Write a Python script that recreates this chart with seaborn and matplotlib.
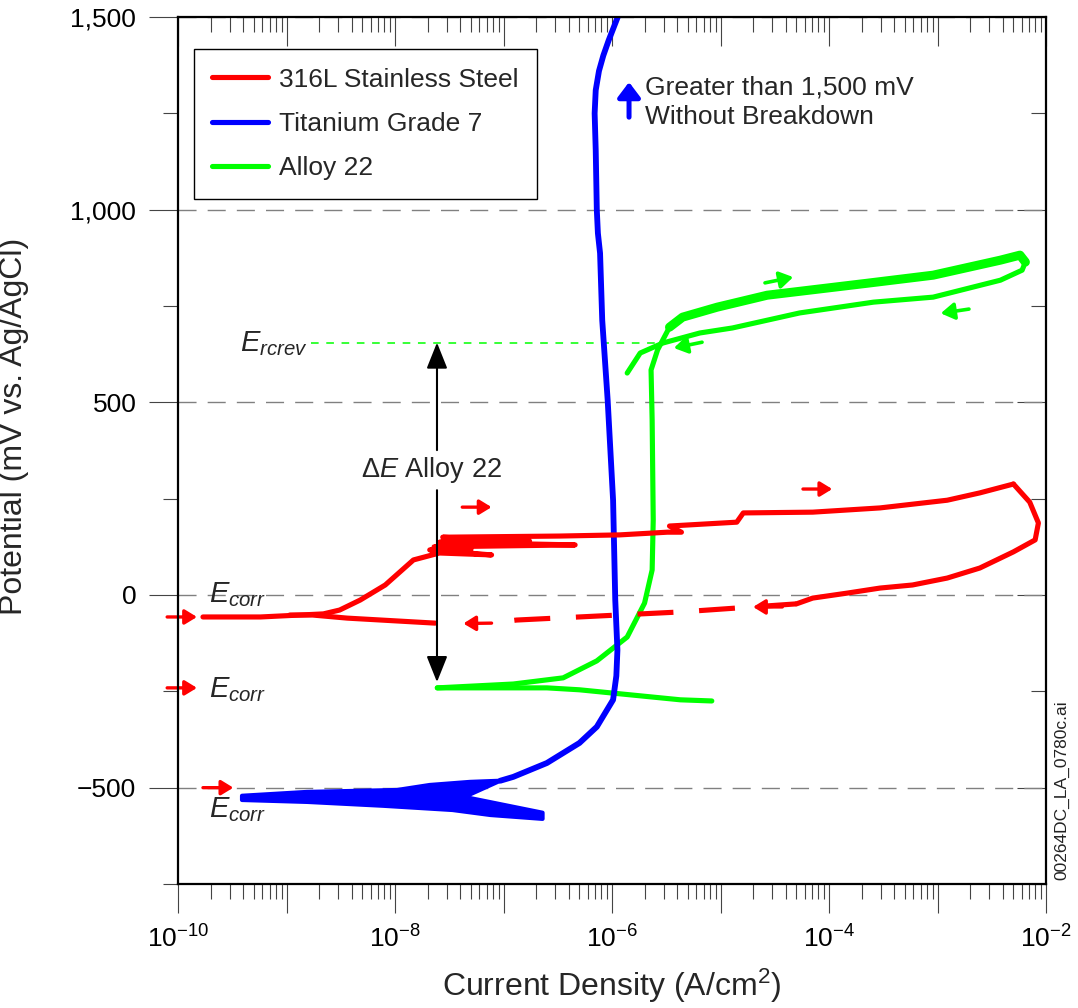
import numpy as np
import pandas as pd
import matplotlib
matplotlib.use("Agg")
import matplotlib.pyplot as plt
import matplotlib.ticker as mticker
from matplotlib.lines import Line2D
import seaborn as sns

# ---------------------------------------------------------------
# Cyclic polarization data: log10 current density (A/cm2) vs.
# potential (mV vs. Ag/AgCl)
# ---------------------------------------------------------------

# 316L stainless steel, forward scan (with metastable pitting spikes)
ss_fwd_logi = [-9.77, -9.24, -8.66, -8.51, -8.32, -8.09, -7.83, -7.59, -7.11, -7.68,
               -7.30, -7.64, -6.34, -7.59, -6.76, -7.54, -7.20, -7.56, -6.48, -5.93,
               -5.49, -5.36, -5.47, -4.85, -4.79, -4.15, -3.53, -2.91, -2.61, -2.30]
ss_fwd_mv = [-57, -57, -49, -39, -13, 26, 91, 109, 104, 117,
             118, 125, 130, 137, 140, 146, 144, 150, 153, 156,
             163, 163, 179, 189, 213, 215, 226, 246, 265, 288]
# 316L reverse scan
ss_rev_logi = [-2.30, -2.15, -2.07, -2.10, -2.30, -2.61, -2.91, -3.23, -3.53, -3.83,
               -4.15, -4.30]
ss_rev_mv = [288, 241, 187, 143, 112, 70, 44, 26, 18, 5, -8, -23]
# 316L reverse scan, bridged portion (dashed)
ss_bridge_logi = [-4.30, -5.37, -6.88, -7.11]
ss_bridge_mv = [-23, -44, -65, -73]
# 316L return to corrosion potential
ss_ret_logi = [-7.63, -8.44, -8.76, -8.97]
ss_ret_mv = [-73, -60, -52, -52]

# Titanium Grade 7, main branch
ti_logi = [-7.03, -6.91, -6.60, -6.30, -6.14, -5.99, -5.96, -5.95, -5.97, -5.99,
           -6.04, -6.09, -6.11, -6.13, -6.14, -6.15, -6.16, -6.15, -6.12, -6.08,
           -6.03, -5.94]
ti_mv = [-482, -472, -436, -384, -342, -272, -210, -143, -13, 246,
         506, 713, 887, 939, 999, 1154, 1250, 1310, 1360, 1400,
         1440, 1505]
# Titanium Grade 7, noisy region near the corrosion potential (envelope)
ti_band_upper_logi = [-9.41, -8.81, -7.98, -7.68, -7.31, -7.03, -7.36, -6.64]
ti_band_upper_mv = [-521, -511, -506, -493, -485, -482, -524, -565]
ti_band_lower_logi = [-9.41, -8.81, -8.11, -7.47, -7.12, -6.64]
ti_band_lower_mv = [-532, -537, -547, -558, -571, -581]

# Alloy 22, cathodic branch
a22_cath_logi = [-7.61, -6.60, -6.30, -5.37, -5.08]
a22_cath_mv = [-241, -241, -246, -272, -275]
# Alloy 22, forward anodic scan
a22_fwd_logi = [-7.61, -6.91, -6.45, -6.14, -5.86, -5.70, -5.63, -5.62, -5.63, -5.64,
                -5.58, -5.47]
a22_fwd_mv = [-241, -231, -215, -171, -109, -21, 65, 195, 454, 584,
              636, 695]
# Alloy 22, transpassive region
a22_tp_logi = [-5.47, -5.35, -5.03, -4.57, -3.65, -3.04, -2.42, -2.24, -2.19]
a22_tp_mv = [695, 721, 747, 778, 809, 830, 869, 882, 864]
# Alloy 22, reverse scan
a22_rev_logi = [-2.19, -2.22, -2.42, -3.04, -3.59, -4.27, -4.89, -5.19, -5.53, -5.74,
                -5.86]
a22_rev_mv = [864, 843, 817, 773, 760, 732, 693, 680, 654, 628, 576]

# Characteristic potentials
e_rcrev_mv = 653
e_rcrev_logi = [-8.77, -5.56]
e_corr_labels_mv = [-18, -265, -576]

series_labels = ["316L Stainless Steel", "Titanium Grade 7", "Alloy 22"]
RED, BLUE, GREEN = "#ff0000", "#0000ff", "#00ff00"

# ---------------------------------------------------------------
sns.set_theme(style="ticks")
plt.rcParams["font.family"] = ["Liberation Sans", "DejaVu Sans"]
plt.rcParams["mathtext.fontset"] = "custom"
plt.rcParams["mathtext.rm"] = "Liberation Sans"
plt.rcParams["mathtext.it"] = "Liberation Sans:italic"
plt.rcParams["mathtext.sf"] = "Liberation Sans"
plt.rcParams["axes.unicode_minus"] = True

fig = plt.figure(figsize=(10.78, 10.08), dpi=100)
ax = fig.add_axes([178 / 1078, 1 - 884 / 1008, 868 / 1078, 867 / 1008])
ax.set_xscale("log")


def df(logi, mv):
    return pd.DataFrame({"i": np.power(10.0, np.asarray(logi, float)),
                         "E": np.asarray(mv, float)})


def curve(logi, mv, color, lw=3.7, **kw):
    d = df(logi, mv)
    sns.lineplot(data=d, x="i", y="E", sort=False, estimator=None, ax=ax,
                 color=color, lw=lw, legend=False, solid_capstyle="round",
                 solid_joinstyle="round", **kw)


# Titanium Grade 7
band = pd.concat([df(ti_band_upper_logi, ti_band_upper_mv),
                  df(ti_band_lower_logi, ti_band_lower_mv).iloc[::-1]])
ax.fill(band["i"], band["E"], color=BLUE, lw=3, ec=BLUE, joinstyle="round", zorder=3)
curve(ti_logi, ti_mv, BLUE, lw=4.2, zorder=3)

# Alloy 22
curve(a22_cath_logi, a22_cath_mv, GREEN, zorder=2)
curve(a22_fwd_logi, a22_fwd_mv, GREEN, zorder=2)
curve(a22_tp_logi, a22_tp_mv, GREEN, lw=6.5, zorder=2)
curve(a22_rev_logi, a22_rev_mv, GREEN, zorder=2)

# 316L stainless steel
curve(ss_fwd_logi, ss_fwd_mv, RED, zorder=4)
curve(ss_rev_logi, ss_rev_mv, RED, zorder=4)
curve(ss_ret_logi, ss_ret_mv, RED, zorder=4)
d_bridge = df(ss_bridge_logi, ss_bridge_mv)
sns.lineplot(data=d_bridge, x="i", y="E", sort=False, estimator=None, ax=ax,
             color=RED, lw=3.7, legend=False, linestyle=(0, (7.0, 5.0)),
             dash_capstyle="butt", zorder=4)

# E_rcrev reference line
sns.lineplot(x=np.power(10.0, e_rcrev_logi), y=[e_rcrev_mv, e_rcrev_mv], ax=ax,
             color=GREEN, lw=1.1, linestyle=(0, (5, 5)), legend=False, zorder=1)

# ---------------------------------------------------------------
# Axes
ax.set_xlim(1e-10, 1e-2)
ax.set_ylim(-750, 1500)

ax.xaxis.set_major_locator(mticker.LogLocator(base=10, numticks=20))
ax.xaxis.set_minor_locator(mticker.LogLocator(base=10, subs=np.arange(2, 10), numticks=200))
ax.xaxis.set_minor_formatter(mticker.NullFormatter())


def xfmt(v, pos):
    e = int(round(np.log10(v)))
    return r"$10^{%d}$" % e if e % 2 == 0 else ""


ax.xaxis.set_major_formatter(mticker.FuncFormatter(xfmt))
ax.yaxis.set_major_locator(mticker.MultipleLocator(500))
ax.yaxis.set_minor_locator(mticker.MultipleLocator(250))
ax.yaxis.set_major_formatter(mticker.FuncFormatter(
    lambda v, p: f"{v:,.0f}".replace("-", "\u2212")))

tick_col = "#444444"
ax.tick_params(axis="both", which="major", direction="out", length=21, width=0.8,
               color=tick_col, labelsize=19, labelcolor="black")
ax.tick_params(axis="both", which="minor", direction="out", length=11, width=0.8,
               color=tick_col)
ax.tick_params(axis="x", which="major", pad=9)
ax.tick_params(axis="y", which="major", pad=9)

# Inward ticks on the top and right edges
top = ax.secondary_xaxis("top")
top.xaxis.set_major_locator(mticker.LogLocator(base=10, numticks=20))
top.xaxis.set_minor_locator(mticker.LogLocator(base=10, subs=np.arange(2, 10), numticks=200))
top.xaxis.set_major_formatter(mticker.NullFormatter())
top.xaxis.set_minor_formatter(mticker.NullFormatter())
top.tick_params(which="major", direction="in", length=21, width=0.8, color=tick_col)
top.tick_params(which="minor", direction="in", length=11, width=0.8, color=tick_col)
right = ax.secondary_yaxis("right")
right.yaxis.set_major_locator(mticker.MultipleLocator(500))
right.yaxis.set_minor_locator(mticker.MultipleLocator(250))
right.yaxis.set_major_formatter(mticker.NullFormatter())
right.tick_params(which="major", direction="in", length=21, width=0.8, color=tick_col)
right.tick_params(which="minor", direction="in", length=11, width=0.8, color=tick_col)
for sec in (top, right):
    for s in sec.spines.values():
        s.set_visible(False)

for s in ax.spines.values():
    s.set_visible(True)
    s.set_color("black")
    s.set_linewidth(1.6)
    s.set_zorder(6)

ax.set_axisbelow(True)
ax.yaxis.grid(True, which="major", color="#808080", lw=1.0, linestyle=(0, (13, 8)))
ax.xaxis.grid(False)

ax.set_xlabel("Current Density (A/cm$^2$)", fontsize=23, labelpad=10)
ax.set_ylabel("Potential (mV vs. Ag/AgCl)", fontsize=23, labelpad=10)
ax.yaxis.set_label_coords(-0.172, 0.528)

# ---------------------------------------------------------------
# Legend
handles = [Line2D([], [], color=c, lw=3.7, solid_capstyle="round")
           for c in (RED, BLUE, GREEN)]
leg = ax.legend(handles, series_labels, loc="upper left",
                bbox_to_anchor=(0.0184, 0.963), borderaxespad=0, fontsize=19,
                frameon=True, fancybox=False, edgecolor="black", framealpha=1,
                handlelength=2.1, handletextpad=0.42, labelspacing=0.77,
                borderpad=0.7)
leg.get_frame().set_linewidth(1.0)
leg.set_zorder(7)

# ---------------------------------------------------------------
# Annotations


def arrow(x0, y0, x1, y1, color, lw, hl, hw, ms=20):
    ax.annotate("", xy=(10 ** x1, y1), xytext=(10 ** x0, y0),
                arrowprops=dict(arrowstyle=f"-|>,head_length={hl},head_width={hw}",
                                color=color, lw=lw, shrinkA=0, shrinkB=0,
                                mutation_scale=ms),
                annotation_clip=False, zorder=5)


# scan direction arrows, 316L
arrow(-7.38, 228, -7.11, 228, RED, 2.4, 0.36, 0.22)
arrow(-4.24, 275, -3.97, 275, RED, 2.4, 0.36, 0.22)
arrow(-4.43, -31, -4.70, -31, RED, 2.4, 0.36, 0.22)
arrow(-7.11, -73, -7.37, -74, RED, 2.4, 0.36, 0.22)
# corrosion potential markers
arrow(-10.10, -57, -9.825, -57, RED, 2.4, 0.36, 0.22)
arrow(-10.10, -241, -9.825, -241, RED, 2.4, 0.36, 0.22)
arrow(-9.77, -500, -9.49, -500, RED, 2.4, 0.36, 0.22)
# scan direction arrows, Alloy 22
arrow(-4.59, 810, -4.33, 825, GREEN, 2.6, 0.4, 0.25)
arrow(-2.71, 742, -2.97, 731, GREEN, 2.6, 0.4, 0.25)
arrow(-5.17, 656, -5.43, 641, GREEN, 2.6, 0.4, 0.25)
# Ti breakdown note
arrow(-5.843, 1240, -5.843, 1331, BLUE, 3.6, 0.45, 0.34)
ax.text(10 ** -5.696, 1279, "Greater than 1,500 mV\nWithout Breakdown",
        fontsize=19, ha="left", va="center", linespacing=1.32)

# Delta E span for Alloy 22
arrow(-7.613, 376, -7.613, 655, "black", 1.5, 0.8, 0.32)
arrow(-7.613, 272, -7.613, -226, "black", 1.5, 0.8, 0.32)
ax.text(10 ** -7.66, 324, r"$\Delta E$ Alloy 22", fontsize=19.5, ha="center", va="center")

# Potential labels
ax.text(10 ** -9.43, 633, r"$E_{rcrev}$", fontsize=21, ha="left", va="baseline")
for mv in e_corr_labels_mv:
    ax.text(10 ** -9.714, mv, r"$E_{corr}$", fontsize=21, ha="left", va="baseline")

fig.text(1062 / 1078, 1 - 790 / 1008, "00264DC_LA_0780c.ai", rotation=90,
         ha="center", va="center", fontsize=12.5, color="#222222")

fig.savefig("out.png", dpi=100, facecolor="white")
